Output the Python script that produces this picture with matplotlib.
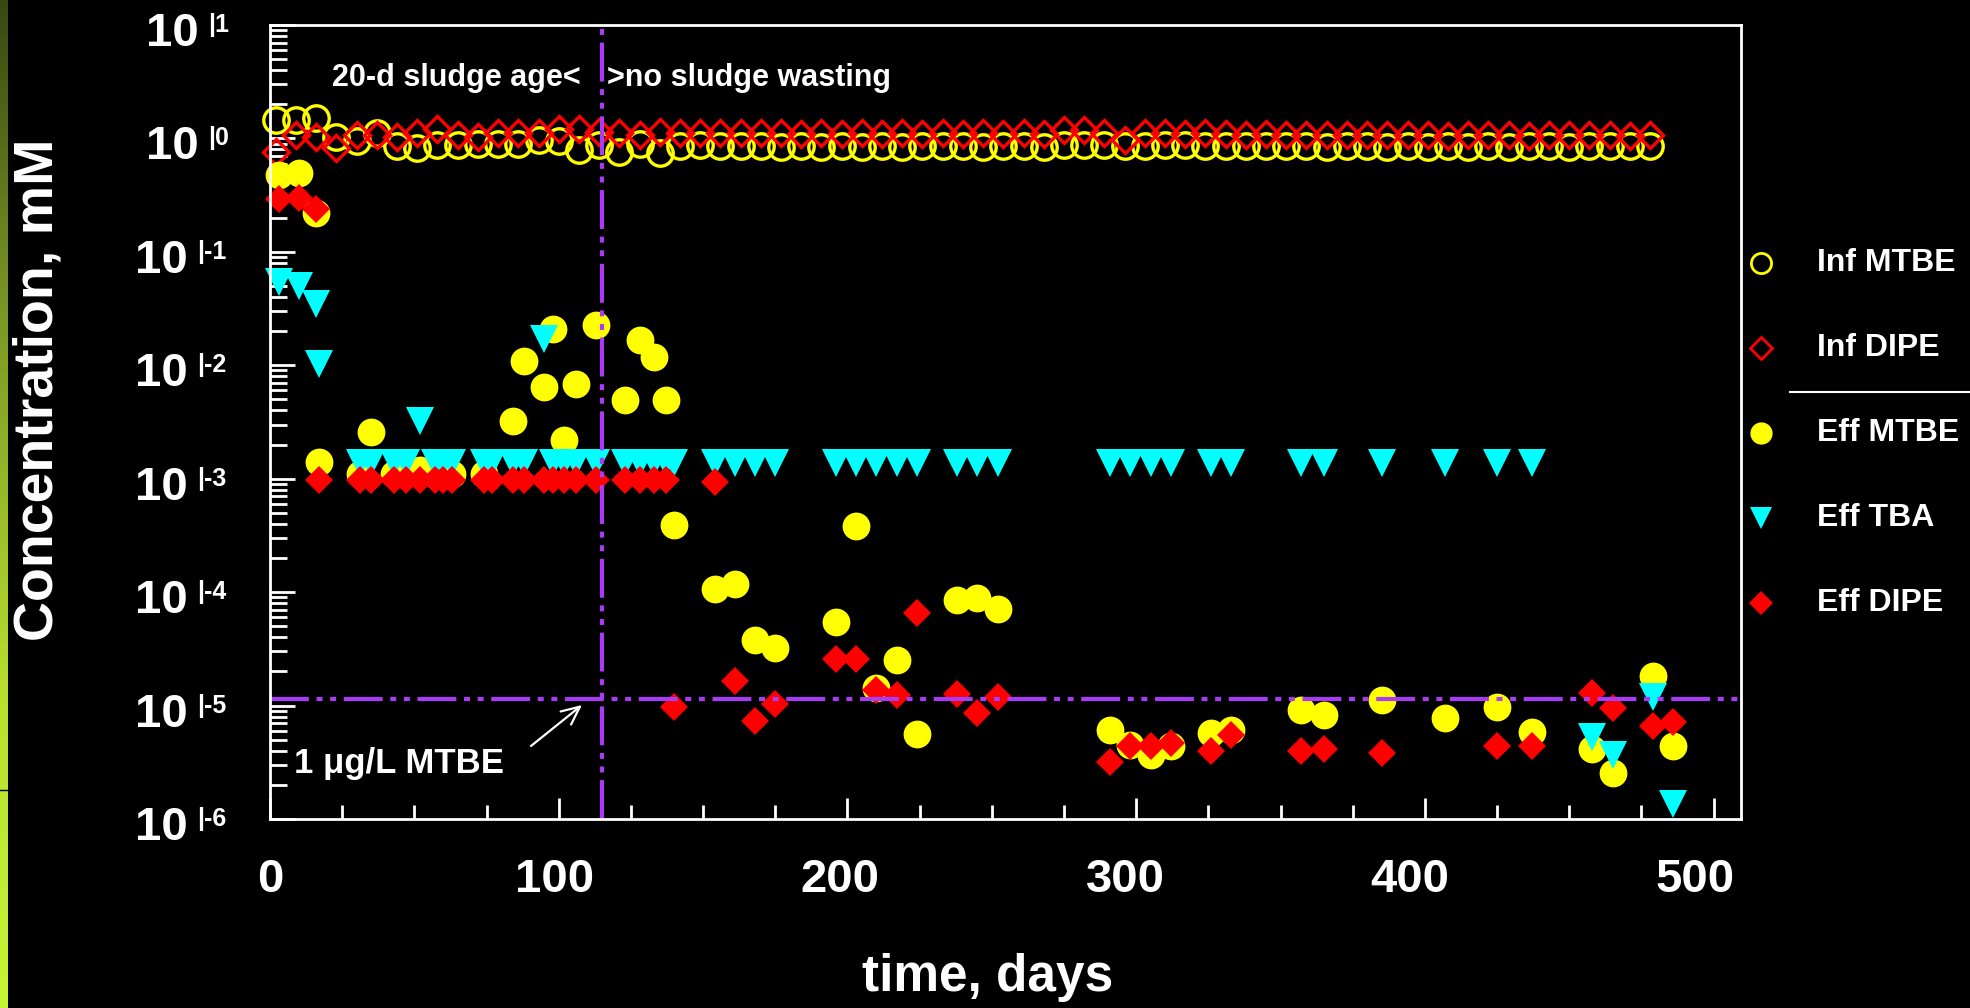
import numpy as np
import matplotlib.pyplot as plt
from matplotlib.lines import Line2D
from matplotlib.colors import LinearSegmentedColormap
from matplotlib.ticker import LogLocator, NullFormatter, MultipleLocator
import matplotlib.transforms as mtransforms

plt.rcParams['font.family'] = ['Liberation Sans', 'DejaVu Sans']
plt.rcParams['font.weight'] = 'bold'
plt.rcParams['lines.scale_dashes'] = False

W, H, DPI = 1970, 1008, 100

# ---- data (days, mM) ----
inf_days = [2, 9, 16, 23, 30, 37, 44, 51, 58, 65, 72, 79, 86, 93, 100, 107, 114,
            121, 128, 135, 142, 149, 156, 163, 170,
            177, 184, 191, 198, 205, 212, 219, 226, 233, 240, 247, 254, 261, 268,
            275, 282, 289, 296, 303, 310, 317, 324, 331,
            338, 345, 352, 359, 366, 373, 380, 387, 394, 401, 408, 415, 422, 429,
            436, 443, 450, 457, 464, 471, 478]
inf_mtbe = [1.45, 1.45, 1.50, 1.03, 0.94, 1.11, 0.85, 0.82, 0.87, 0.87, 0.90, 0.90,
            0.90, 0.97, 0.95, 0.79, 0.87, 0.76, 0.90, 0.74, 0.85, 0.87, 0.85, 0.85, 0.85,
            0.84, 0.85, 0.84, 0.85, 0.84, 0.85, 0.84, 0.85, 0.86, 0.85, 0.84, 0.85,
            0.86, 0.84, 0.88, 0.87, 0.88, 0.85, 0.86, 0.87, 0.88, 0.86, 0.85,
            0.86, 0.85, 0.86, 0.85, 0.84, 0.85, 0.86, 0.84, 0.85, 0.84, 0.86, 0.84,
            0.85, 0.84, 0.86, 0.85, 0.84, 0.86, 0.85, 0.86, 0.86]
inf_dipe = [0.76, 1.07, 1.03, 0.82, 1.07, 1.07, 1.03, 1.11, 1.20, 1.07, 1.03, 1.11,
            1.11, 1.11, 1.20, 1.20, 1.15, 1.11, 1.07, 1.15, 1.11, 1.11, 1.11, 1.11, 1.11,
            1.11, 1.10, 1.11, 1.10, 1.11, 1.10, 1.11, 1.10, 1.11, 1.10, 1.11, 1.10,
            1.11, 1.10, 1.18, 1.18, 1.12, 0.97, 1.12, 1.11, 1.10, 1.11, 1.10,
            1.08, 1.10, 1.08, 1.07, 1.08, 1.07, 1.08, 1.07, 1.08, 1.07, 1.06, 1.07,
            1.08, 1.07, 1.06, 1.07, 1.08, 1.07, 1.07, 1.06, 1.07]

eff_mtbe_days = [3, 10, 16, 17, 31, 35, 43, 52, 63, 74, 84, 88, 95, 98, 102, 106, 113,
                 123, 128, 133, 137, 140, 154, 161, 168, 175, 196, 203, 210, 217, 224,
                 238, 245, 252, 291, 298, 305, 312, 326, 333, 357, 365, 385, 407, 425,
                 437, 458, 465, 479, 486]
eff_mtbe = [0.48, 0.50, 0.22, 1.4e-3, 1.1e-3, 2.6e-3, 1.1e-3, 1.2e-3, 1.1e-3, 1.1e-3,
            3.2e-3, 1.08e-2, 6.4e-3, 2.07e-2, 2.2e-3, 6.9e-3, 2.26e-2,
            4.9e-3, 1.67e-2, 1.19e-2, 4.9e-3, 3.9e-4, 1.06e-4, 1.18e-4, 3.8e-5, 3.2e-5,
            5.4e-5, 3.8e-4, 1.42e-5, 2.5e-5, 5.6e-6, 8.5e-5, 8.8e-5, 7.1e-5,
            6.1e-6, 4.5e-6, 3.7e-6, 4.4e-6, 5.7e-6, 6.1e-6, 9.1e-6, 8.2e-6, 1.12e-5,
            7.8e-6, 9.7e-6, 5.8e-6, 4.1e-6, 2.55e-6, 1.83e-5, 4.4e-6]

eff_tba_days = [3, 10, 16, 17, 31, 35, 43, 47, 52, 57, 60, 63, 74, 77, 84, 88, 95,
                98, 102, 106, 113, 123, 128, 133, 137, 140, 154, 161, 168, 175,
                196, 203, 210, 217, 224, 238, 245, 252, 291, 298, 305, 312, 326, 333,
                357, 365, 385, 407, 425, 437, 458, 465, 479, 486]
eff_tba = [0.054, 0.050, 0.035, 0.0102, 1.37e-3, 1.37e-3, 1.37e-3, 1.37e-3, 3.2e-3,
           1.37e-3, 1.37e-3, 1.37e-3, 1.37e-3, 1.37e-3, 1.37e-3, 1.37e-3, 0.017,
           1.37e-3, 1.37e-3, 1.37e-3, 1.37e-3, 1.37e-3, 1.37e-3, 1.37e-3, 1.37e-3,
           1.37e-3, 1.37e-3, 1.37e-3, 1.37e-3, 1.37e-3,
           1.37e-3, 1.37e-3, 1.37e-3, 1.37e-3, 1.37e-3, 1.37e-3, 1.37e-3, 1.37e-3,
           1.37e-3, 1.37e-3, 1.37e-3, 1.37e-3, 1.37e-3, 1.37e-3,
           1.37e-3, 1.37e-3, 1.37e-3, 1.37e-3, 1.37e-3, 1.37e-3,
           5.3e-6, 3.7e-6, 1.2e-5, 1.35e-6]

eff_dipe_days = [3, 10, 16, 17, 31, 35, 43, 47, 52, 57, 60, 63, 74, 77, 84, 88, 95,
                 98, 102, 106, 113, 123, 128, 133, 137, 140, 154, 161, 168, 175,
                 196, 203, 210, 217, 224, 238, 245, 252, 291, 298, 305, 312, 326, 333,
                 357, 365, 385, 425, 437, 458, 465, 479, 486]
eff_dipe = [0.29, 0.30, 0.24, 9.7e-4, 9.7e-4, 9.7e-4, 9.7e-4, 9.7e-4, 9.7e-4, 9.7e-4,
            9.7e-4, 9.7e-4, 9.7e-4, 9.7e-4, 9.7e-4, 9.7e-4, 9.7e-4,
            9.7e-4, 9.7e-4, 9.7e-4, 9.7e-4, 9.7e-4, 9.7e-4, 9.7e-4, 9.7e-4, 9.7e-6,
            9.3e-4, 1.66e-5, 7.3e-6, 1.03e-5,
            2.6e-5, 2.57e-5, 1.36e-5, 1.23e-5, 6.5e-5, 1.26e-5, 8.6e-6, 1.2e-5,
            3.2e-6, 4.4e-6, 4.4e-6, 4.7e-6, 4.0e-6, 5.5e-6,
            4.0e-6, 4.1e-6, 3.8e-6, 4.4e-6, 4.4e-6, 1.3e-5, 9.6e-6, 6.6e-6, 7.1e-6]

switch_day = 115          # 20-d sludge age -> no sludge wasting
limit_mtbe = 1.134e-5     # 1 ug/L MTBE in mM

x_ticks = [0, 100, 200, 300, 400, 500]
legend_labels = ['Inf MTBE', 'Inf DIPE', 'Eff MTBE', 'Eff TBA', 'Eff DIPE']

yellow, red, cyan, purple = '#FFFF00', '#FF0000', '#00FFFF', '#A93AF5'
dashdotdot = (0, (28, 5.5, 4.3, 5.5, 4.3, 5.5))

fig = plt.figure(figsize=(W / DPI, H / DPI), dpi=DPI, facecolor='black')

# green strip at the slide's left edge (dark at top, light at bottom)
strip = fig.add_axes([0, 0, 8 / W, 1])
cm = LinearSegmentedColormap.from_list(
    'strip', [(0, '#374812'), (0.3, '#789623'), (0.7, '#B9E130'), (1, '#C3F537')])
strip.imshow(np.linspace(0, 1, 256)[:, None], aspect='auto', cmap=cm,
             extent=[0, 1, 0, 1])
strip.axhline(1 - 790 / H, color='black', lw=1)
strip.set_axis_off()

ax = fig.add_axes([270 / W, 1 - 819 / H, (1741 - 270) / W, (819 - 25) / H])
ax.set_facecolor('black')
ax.set_yscale('log')
ax.set_xlim(0, 509.5)
ax.set_ylim(1e-6, 10)

ax.plot(inf_days, inf_mtbe, ls='none', marker='o', ms=18.3, mfc='none',
        mec=yellow, mew=2.4, clip_on=False, zorder=3)
ax.plot(inf_days, inf_dipe, ls='none', marker='D', ms=12.8, mfc='none',
        mec=red, mew=2.4, clip_on=False, zorder=3)
ax.plot(eff_mtbe_days, eff_mtbe, ls='none', marker='o', ms=20, color=yellow,
        mew=0, clip_on=False, zorder=3)
ax.plot(eff_tba_days, eff_tba, ls='none', marker='v', ms=20, color=cyan,
        mew=0, clip_on=False, zorder=3)
ax.plot(eff_dipe_days, eff_dipe, ls='none', marker='D', ms=14.2, color=red,
        mew=0, clip_on=False, zorder=3)

ax.axvline(switch_day, color=purple, lw=3, ls=dashdotdot, zorder=5)
ax.axhline(limit_mtbe, color=purple, lw=3, ls=dashdotdot, zorder=5)

for side in ['left', 'bottom', 'top', 'right']:
    ax.spines[side].set_color('white')
    ax.spines[side].set_linewidth(2)
    ax.spines[side].set_zorder(6)

ax.set_xticks(x_ticks)
ax.set_xticklabels([str(t) for t in x_ticks])
ax.xaxis.set_minor_locator(MultipleLocator(25))
ax.tick_params('x', which='major', direction='in', length=15, width=2,
               color='white', labelcolor='white', labelsize=34, pad=28)
ax.tick_params('x', which='minor', direction='in', length=10, width=2,
               color='white')
# the original labels sit slightly left of their ticks, more so to the right
for t, lab in zip(x_ticks, ax.get_xticklabels()):
    shift = mtransforms.ScaledTranslation(-0.037 * t / DPI, 0, fig.dpi_scale_trans)
    lab.set_transform(lab.get_transform() + shift)

ax.set_yticks(10.0 ** np.arange(-6, 2))
ax.yaxis.set_minor_locator(LogLocator(base=10, subs=np.arange(2, 10), numticks=20))
ax.yaxis.set_major_formatter(NullFormatter())
ax.yaxis.set_minor_formatter(NullFormatter())
ax.tick_params('y', which='major', direction='in', length=18, width=2, color='white')
ax.tick_params('y', which='minor', direction='in', length=12, width=2, color='white')
ax.set_ylim(1e-6, 10)

# y tick labels written as "10" plus a raised "|n"
trans = mtransforms.blended_transform_factory(fig.transFigure, ax.transData)
down9 = mtransforms.ScaledTranslation(0, -9 / DPI, fig.dpi_scale_trans)
down7 = mtransforms.ScaledTranslation(0, -7 / DPI, fig.dpi_scale_trans)
for e in range(-6, 2):
    x_ten = 199 if e >= 0 else 188
    ax.text(x_ten / W, 10.0 ** e, '10', transform=trans + down9, color='white',
            fontsize=34, ha='right', va='center', clip_on=False)
    ax.text((x_ten + 9) / W, 10.0 ** e, '|%d' % e, transform=trans + down7,
            color='white', fontsize=18, ha='left', va='baseline', clip_on=False)

fig.text(39 / W, 1 - 390 / H, 'Concentration, mM', rotation=90, color='white',
         fontsize=40, ha='center', va='center')
fig.text(988 / W, 1 - 977 / H, 'time, days', color='white', fontsize=37,
         ha='center', va='center')

fig.text(581 / W, 1 - 78 / H, '20-d sludge age<', color='white', fontsize=22,
         ha='right', va='center')
fig.text(607 / W, 1 - 78 / H, '>no sludge wasting', color='white', fontsize=22,
         ha='left', va='center')
fig.text(294 / W, 1 - 763 / H, '1 \u03bcg/L MTBE', color='white', fontsize=25,
         ha='left', va='center')
ax.annotate('', xy=(582, H - 705), xycoords='figure pixels',
            xytext=(531, H - 746), textcoords='figure pixels',
            arrowprops=dict(arrowstyle='->,head_length=1.3,head_width=0.6',
                            color='white', lw=1.6, mutation_scale=10,
                            shrinkA=0, shrinkB=0))

# legend
rows = [263, 348, 433, 518, 603]
styles = [dict(marker='o', ms=14.5, mfc='none', mec=yellow, mew=2),
          dict(marker='D', ms=11, mfc='none', mec=red, mew=2),
          dict(marker='o', ms=16, color=yellow, mew=0),
          dict(marker='v', ms=16.5, color=cyan, mew=0),
          dict(marker='D', ms=12, color=red, mew=0)]
for y, label, st in zip(rows, legend_labels, styles):
    fig.add_artist(Line2D([1761 / W], [1 - y / H], transform=fig.transFigure,
                          ls='none', **st))
    fig.text(1817 / W, 1 - y / H, label, color='white', fontsize=23,
             ha='left', va='center')
fig.add_artist(Line2D([1790 / W, 1], [1 - 392 / H, 1 - 392 / H],
                      transform=fig.transFigure, color='white', lw=1.5))

fig.savefig('out.png', dpi=DPI, facecolor='black')
